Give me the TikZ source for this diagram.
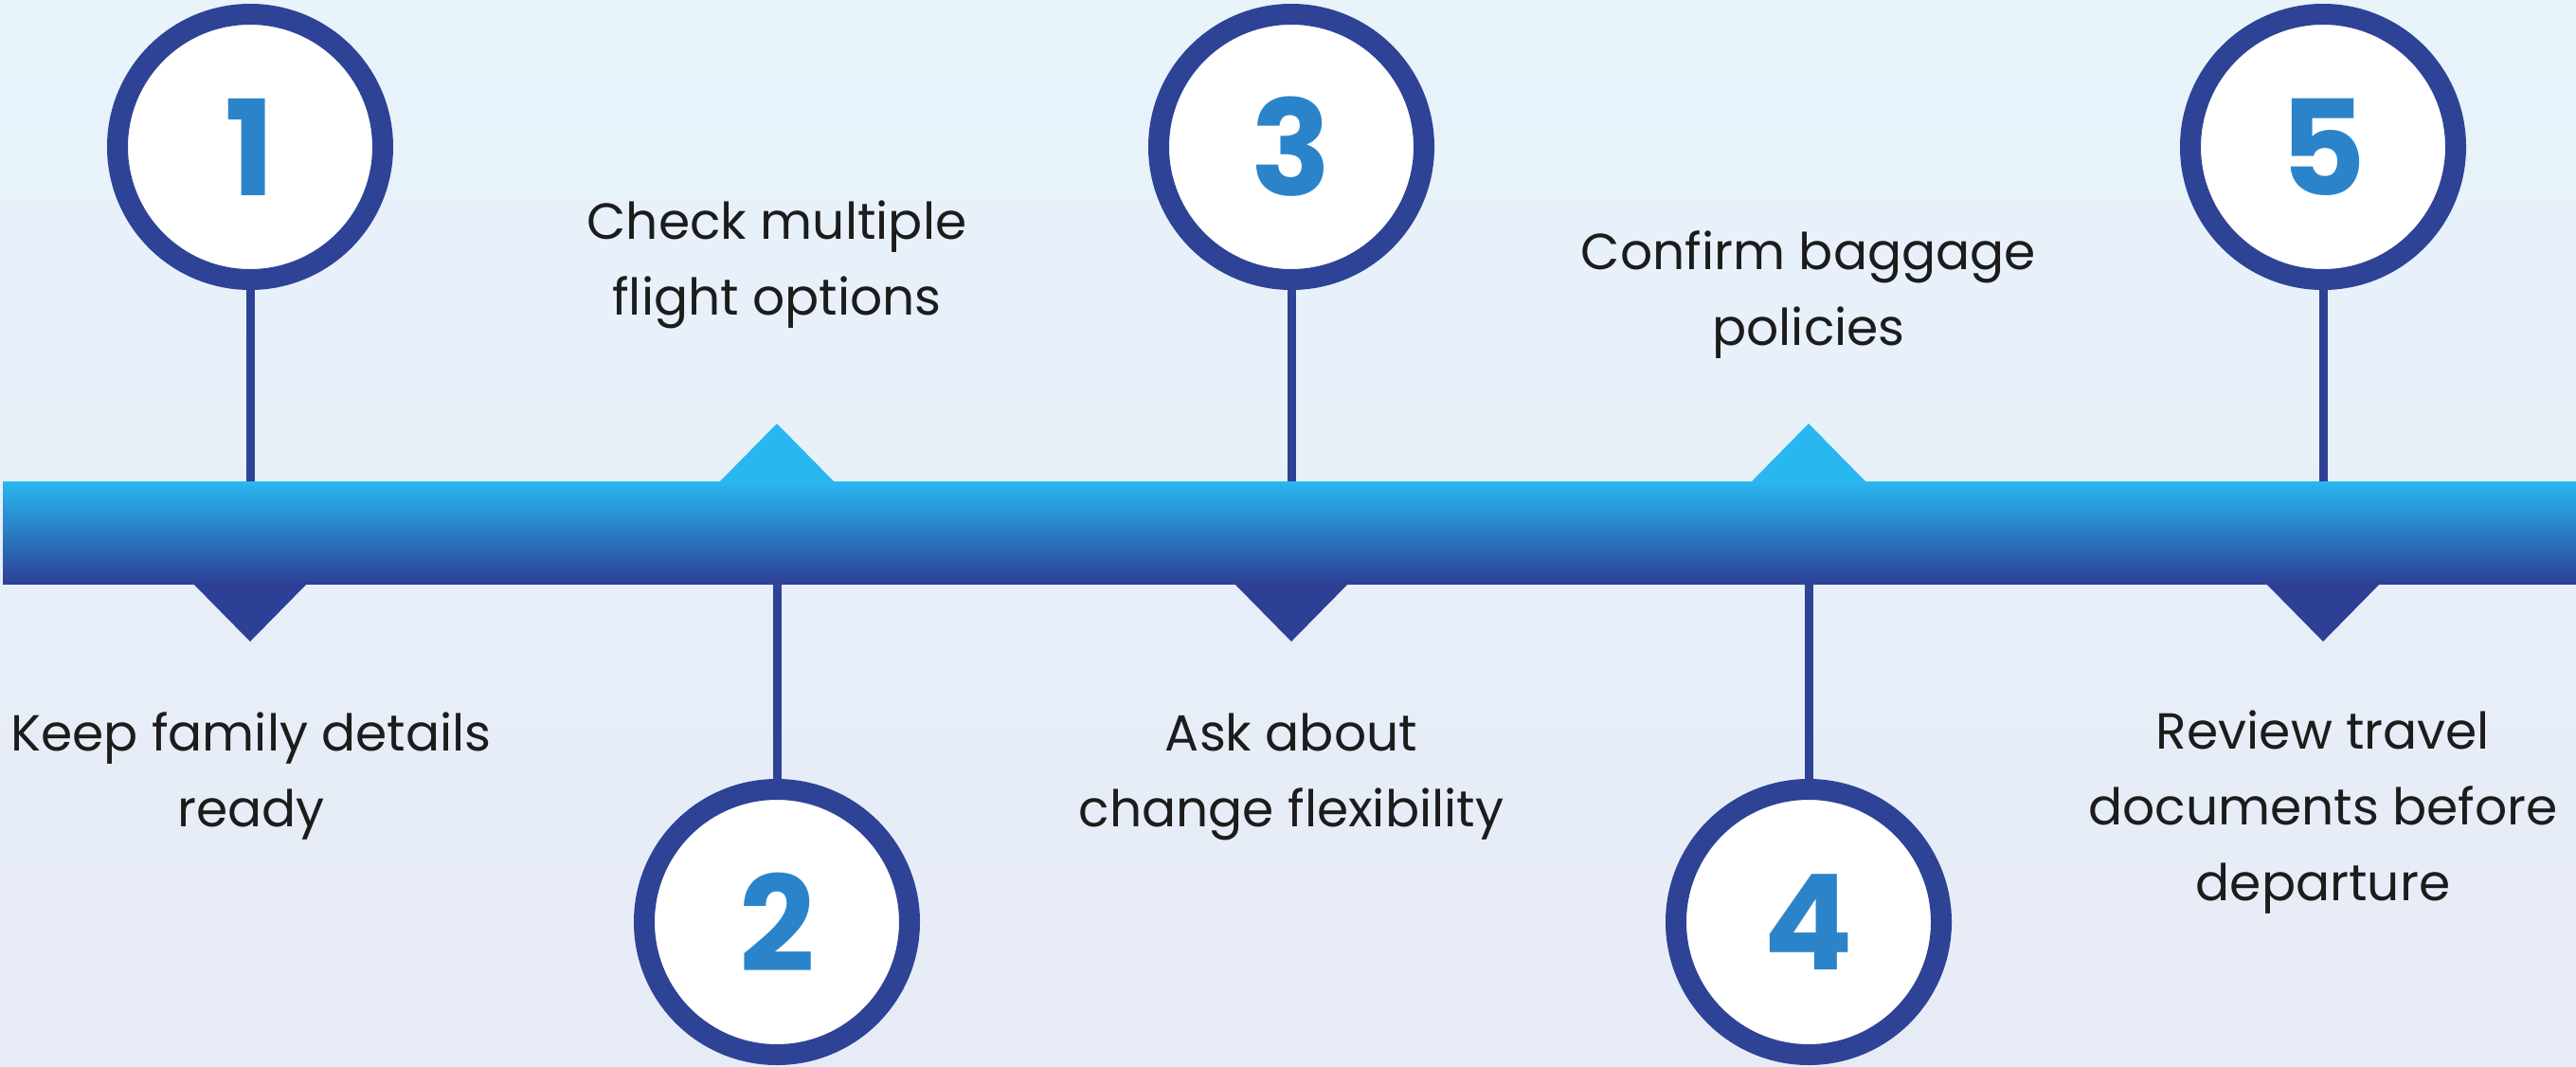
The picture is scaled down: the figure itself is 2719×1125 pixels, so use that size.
\documentclass[tikz,border=0pt]{standalone}
\usepackage{fontspec}
\setmainfont{Poppins}
\definecolor{ring}{HTML}{2E4396}
\definecolor{barTop}{HTML}{29B7F1}
\definecolor{barBot}{HTML}{2D4095}
\definecolor{txt}{HTML}{1C1C1C}
\definecolor{bgTop}{HTML}{E8F3FA}
\definecolor{bgBot}{HTML}{E7EBF6}
\definecolor{numCol}{HTML}{2B84CA}
\tikzset{
  stepcircle/.style={circle, draw=ring, line width=22pt, fill=white, minimum size=280pt, inner sep=0pt,
    text=numCol, font=\fontsize{140}{140}\selectfont\bfseries},
  link/.style={draw=ring, line width=9pt},
  steplabel/.style={align=center, font=\fontsize{53.5}{80}\selectfont, text=txt, inner sep=0pt, anchor=base},
  tripup/.style={fill=barTop},
  tripdown/.style={fill=barBot}
}
\begin{document}
\begin{tikzpicture}[x=1pt,y=-1pt]
\useasboundingbox (0,0) rectangle (2719,1125);
\shade[top color=bgTop, bottom color=bgBot] (0,0) rectangle (2719,1125);

% bar
\node[minimum width=2716pt, minimum height=108pt, inner sep=0pt, top color=barTop, bottom color=barBot] (bar) at (1361,562) {};

% circles with numbers
\node[stepcircle] (c1) at (264,155) {1};
\node[stepcircle] (c2) at (820,973) {2};
\node[stepcircle] (c3) at (1363,155) {3};
\node[stepcircle] (c4) at (1909,973) {4};
\node[stepcircle] (c5) at (2452,155) {5};

% connectors
\draw[link] (c1.south) -- (c1.south |- bar.north);
\draw[link] (c3.south) -- (c3.south |- bar.north);
\draw[link] (c5.south) -- (c5.south |- bar.north);
\draw[link] (c2.north) -- (c2.north |- bar.south);
\draw[link] (c4.north) -- (c4.north |- bar.south);

% triangles
\fill[tripup] (759,509) -- (820,447) -- (881,509) -- cycle;
\fill[tripup] (1848,509) -- (1909,447) -- (1970,509) -- cycle;
\fill[tripdown] (203,615) -- (264,677) -- (325,615) -- cycle;
\fill[tripdown] (1302,615) -- (1363,677) -- (1424,615) -- cycle;
\fill[tripdown] (2391,615) -- (2452,677) -- (2513,615) -- cycle;

% labels (base = baseline of last line)
\node[steplabel] (l1) at (265,872) {Keep family details\\ready};
\node[steplabel] (l2) at (820,332) {Check multiple\\flight options};
\node[steplabel] (l3) at (1363,872) {Ask about\\change flexibility};
\node[steplabel] (l4) at (1909,364) {Confirm baggage\\policies};
\node[steplabel] (l5) at (2452,950) {Review travel\\documents before\\departure};
\end{tikzpicture}
\end{document}
